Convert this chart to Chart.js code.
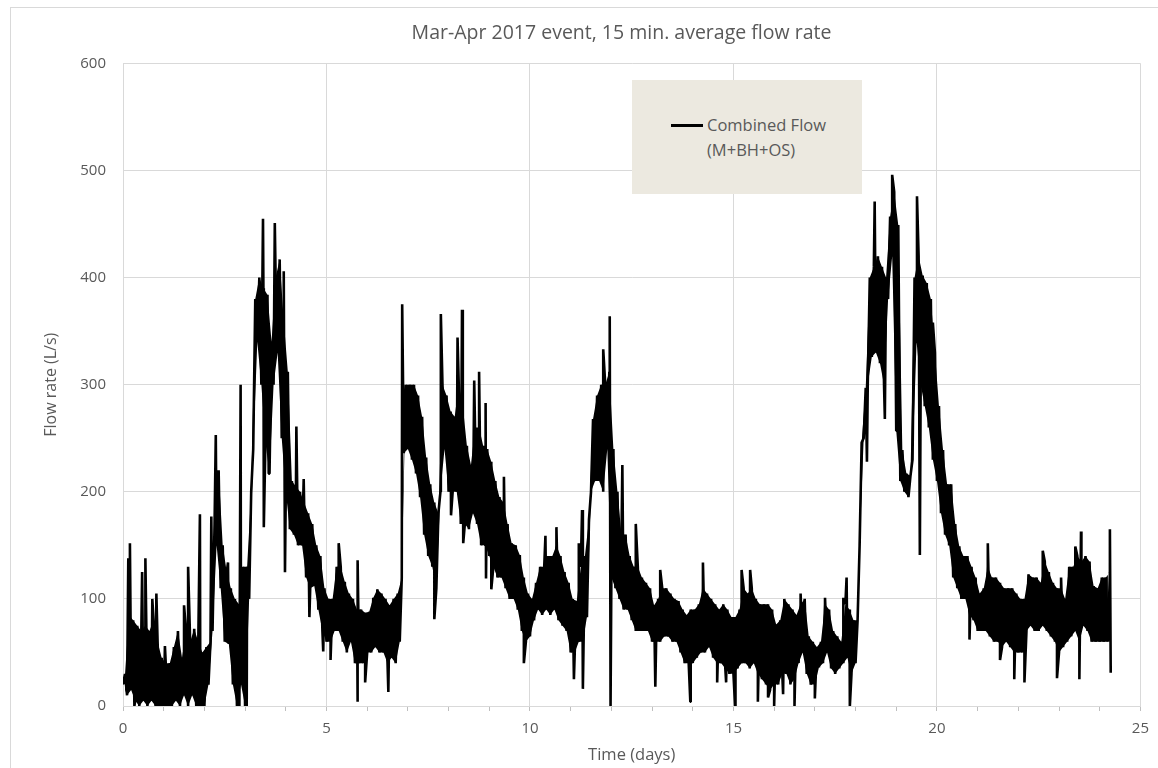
<!DOCTYPE html>
<html>
<head>
<meta charset="utf-8">
<script src="https://cdn.jsdelivr.net/npm/chart.js@4/dist/chart.umd.min.js"></script>
<style>
  body { margin: 0; background: #fff; }
  #frame { position: absolute; left: 10px; top: 7px; width: 1170px; height: 780px; border: 1px solid #d9d9d9; }
  #wrap { position: absolute; left: 0; top: 0; width: 1158px; height: 768px; }
  #legend {
    position: absolute; left: 632px; top: 80px; width: 230px; height: 114px;
    background: #ece9e0; font-family: "Open Sans", sans-serif; font-size: 16.5px; color: #595959;
  }
  #legend .swatch { position: absolute; left: 39px; top: 44px; width: 32px; height: 2.5px; background: #000; }
  #legend .txt { position: absolute; left: 75px; top: 32px; line-height: 25px; }
</style>
</head>
<body>
<div id="frame"></div>
<div id="wrap"><canvas id="flow-chart" width="1158" height="768"></canvas></div>
<div id="legend"><div class="swatch"></div><div class="txt" id="legend-text"></div></div>
<script>
// dense band of the 15 min record in 0.1 day bins (low and high of the band)
const binStep = 0.1;
const bandLow = [
  20, 10, 15, 5, 0, 5, 0, 5, 0, 0,
  0, 0, 0, 5, 0, 10, 0, 10, 0, 0,
  0, 20, 70, 150, 110, 60, 58, 20, 0, 20,
  0, 100, 240, 340, 300, 246, 217, 300, 330, 250,
  200, 165, 160, 150, 150, 120, 110, 112, 90, 70,
  60, 60, 70, 70, 60, 50, 60, 40, 40, 40,
  50, 50, 55, 50, 50, 40, 45, 40, 60, 236,
  240, 230, 217, 195, 160, 140, 130, 110, 200, 240,
  200, 200, 200, 170, 170, 165, 180, 170, 150, 150,
  140, 130, 120, 120, 110, 100, 100, 90, 70, 60,
  65, 80, 90, 85, 90, 85, 90, 80, 75, 70,
  50, 50, 60, 60, 83, 200, 210, 210, 200, 240,
  120, 110, 100, 90, 90, 80, 70, 70, 70, 70,
  60, 60, 60, 65, 65, 60, 60, 50, 40, 40,
  40, 45, 50, 50, 55, 45, 40, 40, 35, 30,
  30, 35, 40, 40, 35, 40, 30, 25, 20, 15,
  20, 20, 30, 30, 20, 25, 40, 50, 30, 20,
  20, 36, 40, 50, 35, 30, 35, 40, 45, 30,
  40, 150, 250, 300, 326, 330, 320, 300, 380, 420,
  257, 210, 200, 195, 230, 340, 300, 280, 260, 230,
  210, 180, 160, 150, 120, 110, 100, 100, 85, 80,
  70, 70, 70, 65, 60, 60, 55, 60, 55, 50,
  50, 50, 70, 75, 70, 70, 75, 70, 65, 60,
  50, 55, 60, 65, 70, 60, 75, 70, 60, 60,
  60, 60, 60
];
const bandHigh = [
  30, 85, 80, 75, 70, 75, 70, 80, 60, 45,
  40, 40, 55, 70, 45, 70, 60, 72, 60, 50,
  55, 60, 170, 220, 150, 125, 110, 100, 95, 130,
  130, 200, 380, 400, 390, 384, 340, 400, 417, 360,
  312, 210, 205, 200, 190, 180, 170, 150, 140, 110,
  100, 100, 130, 130, 116, 105, 100, 90, 90, 87,
  88, 101, 109, 105, 100, 94, 100, 105, 120, 300,
  300, 300, 290, 270, 232, 207, 190, 180, 300, 290,
  275, 270, 300, 280, 243, 225, 260, 260, 243, 240,
  228, 210, 195, 190, 170, 152, 150, 141, 120, 105,
  100, 115, 130, 130, 140, 140, 150, 140, 125, 115,
  100, 98, 130, 140, 174, 268, 290, 300, 300, 312,
  240, 200, 160, 160, 140, 130, 130, 120, 115, 110,
  94, 100, 110, 110, 105, 100, 98, 90, 85, 90,
  90, 95, 110, 105, 100, 95, 90, 95, 90, 83,
  83, 90, 110, 105, 110, 100, 95, 95, 95, 90,
  76, 80, 100, 95, 90, 85, 95, 100, 65, 60,
  55, 60, 95, 90, 70, 65, 60, 95, 90, 80,
  80, 246, 297, 400, 410, 420, 410, 400, 457, 480,
  449, 239, 217, 215, 400, 420, 402, 395, 380, 330,
  280, 239, 207, 207, 170, 149, 140, 140, 130, 120,
  105, 110, 130, 120, 120, 115, 110, 110, 110, 105,
  100, 100, 123, 120, 120, 115, 135, 125, 115, 110,
  110, 100, 130, 130, 140, 135, 140, 135, 112, 110,
  120, 120, 125
];
// single readings that stick out of the band
const spikeDays = [
  0.13, 0.17, 0.28, 0.47, 0.55, 0.72, 0.82, 1.03, 1.5, 1.6,
  1.89, 2.17, 2.28, 2.58, 2.86, 2.89, 3.04, 3.44, 3.46, 3.58,
  3.73, 3.95, 3.98, 4.26, 4.44, 4.58, 4.92, 5.1, 5.3, 5.76,
  5.77, 5.95, 6.52, 6.86, 7.65, 7.81, 8.06, 8.22, 8.33, 8.36,
  8.63, 8.75, 8.91, 8.92, 9.05, 9.36, 9.85, 10.38, 10.65, 11.0,
  11.08, 11.2, 11.28, 11.3, 11.8, 11.96, 11.98, 12.27, 12.6, 13.08,
  13.2, 13.94, 14.25, 14.6, 14.82, 15.04, 15.2, 15.41, 15.6, 15.85,
  16.0, 16.22, 16.5, 16.65, 17.0, 17.25, 17.7, 17.78, 17.86, 18.28,
  18.47, 18.72, 18.9, 19.02, 19.51, 19.58, 19.9, 20.8, 21.25, 21.55,
  21.9, 22.15, 22.6, 22.95, 23.05, 23.4, 23.5, 23.54, 24.25, 24.27
];
const spikeValues = [
  138, 152, 0, 125, 138, 100, 105, 56, 94, 130,
  179, 177, 253, 134, 0, 300, 0, 455, 167, 217,
  451, 406, 125, 261, 212, 83, 51, 43, 152, 4,
  136, 22, 13, 375, 81, 366, 178, 344, 370, 152,
  304, 312, 283, 119, 109, 214, 40, 159, 167, 62,
  25, 152, 183, 16, 333, 364, 0, 225, 170, 18,
  127, 4, 134, 22, 22, 0, 127, 127, 4, 8,
  0, 11, 0, 105, 7, 101, 101, 120, 0, 228,
  471, 268, 496, 257, 476, 141, 358, 62, 152, 43,
  25, 22, 145, 26, 120, 149, 25, 163, 165, 31
];
const seriesLabel = ["Combined Flow", "(M+BH+OS)"];
const chartTitle = "Mar-Apr 2017 event, 15 min. average flow rate";

const textColor = "#595959";
const gridColor = "#d9d9d9";
const fontFamily = "'Open Sans', sans-serif";

const lowPoints = bandLow.map((lo, i) => ({ x: +(i * binStep).toFixed(2), y: lo }));
const highPoints = bandHigh.map((hi, i) => ({ x: +(i * binStep + binStep / 2).toFixed(2), y: hi }));
const points = [...lowPoints, ...highPoints];
spikeDays.forEach((d, i) => points.push({ x: d, y: spikeValues[i] }));
points.sort((a, b) => a.x - b.x);

document.getElementById("legend-text").innerHTML = seriesLabel.join("<br>");

// the title in the original sits a bit right of the canvas middle
const titleShift = {
  id: "titleShift",
  afterLayout: (chart) => {
    if (chart.titleBlock) chart.titleBlock.left += 60;
  },
};

const bandStyle = { borderWidth: 0, pointRadius: 0, tension: 0, backgroundColor: "#000" };

const config = {
  type: "line",
  data: {
    datasets: [
      { ...bandStyle, label: "band low", data: lowPoints, fill: false },
      { ...bandStyle, label: "band high", data: highPoints, fill: "-1" },
      {
        label: seriesLabel.join(" "),
        data: points,
        borderColor: "#000",
        borderWidth: 2.6,
        borderJoinStyle: "bevel",
        pointRadius: 0,
        tension: 0,
        fill: false,
      },
    ],
  },
  options: {
    responsive: false,
    animation: false,
    layout: { padding: { left: 40, right: 15, top: 0, bottom: 0 } },
    plugins: {
      legend: { display: false },
      tooltip: { enabled: false },
      title: {
        display: true,
        text: chartTitle,
        color: textColor,
        font: { family: fontFamily, size: 19.5, weight: "normal" },
        padding: { top: 22, bottom: 18 },
      },
    },
    scales: {
      x: {
        type: "linear",
        min: 0,
        max: 25,
        afterFit: (s) => { s.height = 62; },
        ticks: {
          stepSize: 1,
          autoSkip: false,
          maxRotation: 0,
          padding: 9,
          color: textColor,
          font: { family: fontFamily, size: 15 },
          callback: (v) => (v % 5 === 0 ? String(v) : ""),
        },
        grid: {
          color: (ctx) => (ctx.tick && ctx.tick.value % 5 === 0 ? gridColor : "rgba(0,0,0,0)"),
          tickColor: "#bfbfbf",
          tickLength: 5,
        },
        border: { color: gridColor },
        title: {
          display: true,
          text: "Time (days)",
          color: textColor,
          font: { family: fontFamily, size: 16.5 },
          padding: { top: 2, bottom: 3 },
        },
      },
      y: {
        min: 0,
        max: 600,
        afterFit: (s) => { s.width = 83; },
        ticks: {
          stepSize: 100,
          padding: 17,
          color: textColor,
          font: { family: fontFamily, size: 15 },
        },
        grid: { color: gridColor, drawTicks: false },
        border: { color: gridColor },
        title: {
          display: true,
          text: "Flow rate (L/s)",
          color: textColor,
          font: { family: fontFamily, size: 16 },
          padding: { top: 2, bottom: 4 },
        },
      },
    },
  },
  plugins: [titleShift],
};

const ctx = document.getElementById("flow-chart").getContext("2d");
const chart = new Chart(ctx, config);
</script>
</body>
</html>
